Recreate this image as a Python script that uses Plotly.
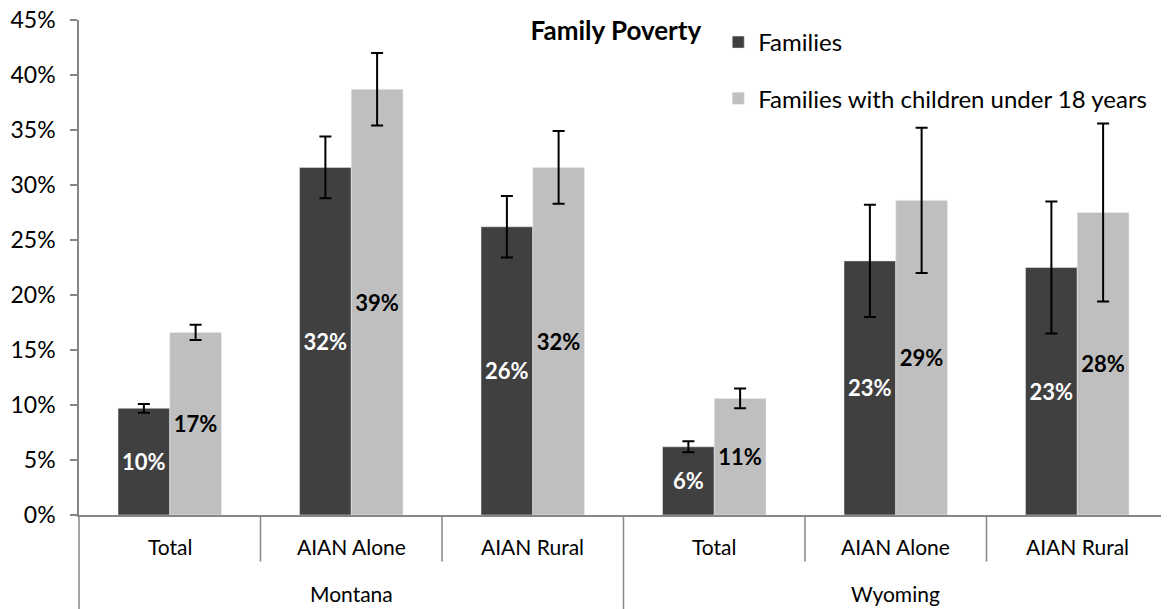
import plotly.graph_objects as go

states = ["Montana", "Montana", "Montana", "Wyoming", "Wyoming", "Wyoming"]
groups = ["Montana", "Wyoming"]
categories = ["Total", "AIAN Alone", "AIAN Rural", "Total", "AIAN Alone", "AIAN Rural"]
families = [9.7, 31.6, 26.2, 6.2, 23.1, 22.5]
families_err = [0.4, 2.8, 2.8, 0.5, 5.1, 6.0]
children = [16.6, 38.7, 31.6, 10.6, 28.6, 27.5]
children_err = [0.7, 3.3, 3.3, 0.9, 6.6, 8.1]
y_ticks = [0, 5, 10, 15, 20, 25, 30, 35, 40, 45]
y_ticktext = [f"{v}%" for v in y_ticks]

FONT = "Lato"
DARK = "#404040"
LIGHT = "#BFBFBF"
AXIS = "#868686"

# page body has an 8px margin; compensate so the plot lands where the reference is
W, H = 1161, 601

xpos = list(range(len(categories)))


def lab(vals):
    return [f"{int(v + 0.5)}%" for v in vals]


fig = go.Figure()
fig.add_trace(go.Bar(
    x=xpos, y=families, name="Families", marker_color=DARK,
    legendgroup="a",
    error_y=dict(type="data", array=families_err, visible=True,
                 color="black", thickness=2, width=6),
    text=lab(families), textposition="inside", insidetextanchor="middle",
    textangle=0, constraintext="none",
    textfont=dict(family=FONT, size=22, color="white", weight="bold"),
))
fig.add_trace(go.Bar(
    x=xpos, y=children, name="Families with children under 18 years",
    marker_color=LIGHT, legendgroup="b",
    error_y=dict(type="data", array=children_err, visible=True,
                 color="black", thickness=2, width=6),
    text=lab(children), textposition="inside", insidetextanchor="middle",
    textangle=0, constraintext="none",
    textfont=dict(family=FONT, size=22, color="black", weight="bold"),
))

n = len(categories)
shapes = []
for i in range(1, n):
    long_sep = states[i] != states[i - 1]
    shapes.append(dict(type="line", xref="x", yref="paper",
                       x0=i - 0.5, x1=i - 0.5, y0=0,
                       y1=-0.2 if long_sep else -0.094,
                       line=dict(color=AXIS, width=1.5)))
shapes.append(dict(type="line", xref="paper", yref="paper", x0=0, x1=0,
                   y0=0, y1=-0.2, line=dict(color=AXIS, width=1.5)))

annotations = []
for i, c in enumerate(categories):
    annotations.append(dict(x=i, y=-0.0636, xref="x", yref="paper", text=c,
                            showarrow=False, yanchor="middle",
                            font=dict(family=FONT, size=21, color="black")))
for g in groups:
    idx = [i for i, s in enumerate(states) if s == g]
    annotations.append(dict(x=sum(idx) / len(idx), y=-0.158, xref="x",
                            yref="paper", text=g, showarrow=False,
                            yanchor="middle",
                            font=dict(family=FONT, size=21, color="black")))

fig.update_layout(
    width=W, height=H,
    margin=dict(l=71, r=1, t=12, b=93.5),
    paper_bgcolor="white", plot_bgcolor="white",
    barmode="group", bargap=0.43, bargroupgap=0,
    font=dict(family=FONT, size=21, color="black"),
    title=dict(text="<b>Family Poverty</b>", x=0.493, xref="paper",
               xanchor="center", y=1 - 23 / H, yanchor="middle",
               font=dict(family=FONT, size=26, color="black")),
    legend=dict(x=0.587, xanchor="left", y=1.0, yanchor="top",
                traceorder="grouped", tracegroupgap=22,
                font=dict(family=FONT, size=24, color="black"),
                bgcolor="rgba(0,0,0,0)"),
    showlegend=True,
    xaxis=dict(range=[-0.5, n - 0.5], showticklabels=False, showgrid=False,
               zeroline=False, showline=True, linecolor=AXIS, linewidth=1.5,
               ticks=""),
    yaxis=dict(range=[0, 45], tickvals=y_ticks, ticktext=y_ticktext,
               showgrid=False, zeroline=False, showline=True,
               linecolor=AXIS, linewidth=1.5, ticks="outside", ticklen=7,
               tickcolor=AXIS, tickwidth=1.5, ticklabelstandoff=10,
               automargin=False, ticklabeloverflow="allow",
               tickfont=dict(family=FONT, size=23, color="black")),
    shapes=shapes, annotations=annotations,
)

fig.write_html("out.html")
